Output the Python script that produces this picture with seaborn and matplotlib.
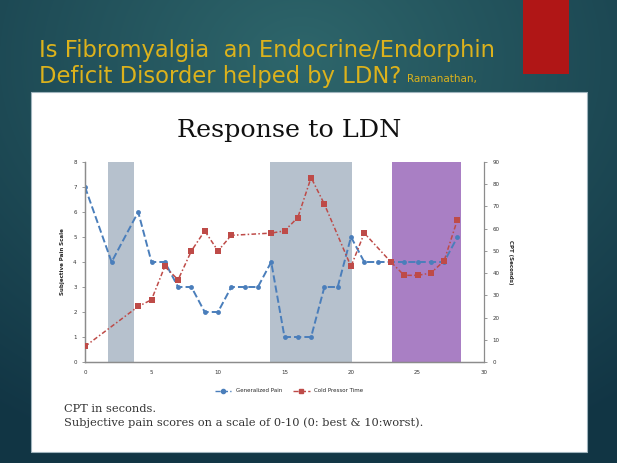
import numpy as np
import pandas as pd
import matplotlib.pyplot as plt
import seaborn as sns
from matplotlib.patches import Rectangle
from matplotlib.lines import Line2D

# values
pain_day = [0, 2, 4, 5, 6, 7, 8, 9, 10, 11, 12, 13, 14, 15, 16, 17, 18, 19, 20,
            21, 22, 23, 24, 25, 26, 27, 28]
pain_score = [7, 4, 6, 4, 4, 3, 3, 2, 2, 3, 3, 3, 4, 1, 1, 1, 3, 3, 5,
              4, 4, 4, 4, 4, 4, 4, 5]
cpt_day = [0, 4, 5, 6, 7, 8, 9, 10, 11, 14, 15, 16, 17, 18, 20, 21, 23, 24, 25, 26, 27, 28]
cpt_sec = [7, 25, 28, 43, 37, 50, 59, 50, 57, 58, 59, 65, 83, 71, 43, 58, 45, 39, 39, 40, 45.5, 64]
# shaded treatment periods (start, end)
gray_spans = [(1.75, 3.7), (13.9, 20.1)]
purple_span = (23.05, 28.25)

pain_df = pd.DataFrame({"day": pain_day, "score": pain_score})
cpt_df = pd.DataFrame({"day": cpt_day, "cpt": cpt_sec})

sns.set_style("white")
plt.rcParams['font.family'] = ['DejaVu Sans']

fig = plt.figure(figsize=(6.17, 4.63), dpi=100)

# slide background (dark teal, lighter in the middle)
bg = fig.add_axes([0, 0, 1, 1])
yy, xx = np.mgrid[0:463, 0:617]
r = np.sqrt(((xx - 300) / 520.0) ** 2 + ((yy - 60) / 420.0) ** 2)
r = np.clip(r, 0, 1)
c0 = np.array([0.18, 0.40, 0.42])
c1 = np.array([0.07, 0.21, 0.27])
img = c0[None, None, :] * (1 - r[..., None]) + c1[None, None, :] * r[..., None]
bg.imshow(img, extent=[0, 1, 0, 1], aspect='auto')
bg.axis('off')

# white panel + red bar
fig.patches.append(Rectangle((0.0502, 0.0238), 0.901, 0.7775, transform=fig.transFigure,
                             facecolor='white', edgecolor='#9fb4bd', linewidth=0.8, zorder=1))
fig.patches.append(Rectangle((0.8476, 0.8402), 0.0746, 0.17, transform=fig.transFigure,
                             facecolor='#b01616', edgecolor='none', zorder=1))

gold = '#dcb21c'
fig.text(0.063, 1 - 51 / 463, 'Is Fibromyalgia  an Endocrine/Endorphin', color=gold,
         fontsize=16.3, family='DejaVu Sans', va='center', ha='left')
fig.text(0.063, 1 - 76 / 463, 'Deficit Disorder helped by LDN?', color=gold,
         fontsize=16.3, family='DejaVu Sans', va='center', ha='left')
fig.text(0.66, 1 - 79 / 463, 'Ramanathan,', color=gold, fontsize=7.5, family='DejaVu Sans',
         va='center', ha='left')

fig.text(289 / 617, 1 - 130 / 463, 'Response to LDN', fontsize=18.3, family='DejaVu Serif',
         ha='center', va='center', color='#111111')

ax = fig.add_axes([85 / 617, 1 - 362 / 463, 399 / 617, 200 / 463])
ax.set_zorder(3)
ax.patch.set_alpha(0)

for a, b in gray_spans:
    ax.axvspan(a, b, ymin=0, ymax=1, color='#b6c1cd', zorder=0, lw=0)
ax.axvspan(purple_span[0], purple_span[1], color='#a97fc4', zorder=0, lw=0)

blue = '#4a7ebb'
red = '#be4b48'
sns.lineplot(data=pain_df, x='day', y='score', ax=ax, color=blue, linestyle='--',
             linewidth=1.4, marker='o', markersize=3.5, markeredgewidth=0, zorder=3)
ax.set_xlim(0, 30)
ax.set_ylim(0, 8)
ax.set_xticks(range(0, 31, 5))
ax.set_yticks(range(0, 9))
ax.set_xlabel('')
ax.set_ylabel('Subjective Pain Scale', fontsize=4, fontweight='bold', labelpad=6)

ax2 = ax.twinx()
sns.lineplot(data=cpt_df, x='day', y='cpt', ax=ax2, color=red, linestyle=(0, (3, 1.5, 1, 1.5)),
             linewidth=1.1, marker='s', markersize=4, markeredgewidth=0, zorder=3)
ax2.set_ylim(0, 90)
ax2.set_yticks(range(0, 91, 10))
ax2.set_ylabel('CPT (Seconds)', fontsize=4, fontweight='bold', rotation=270, labelpad=10)
ax2.set_xlabel('')

for a in (ax, ax2):
    a.tick_params(labelsize=4, length=2, width=0.6, color='#888888', labelcolor='#333333', pad=4)
    for s in a.spines.values():
        s.set_color('#8c8c8c')
        s.set_linewidth(0.9)
    a.spines['top'].set_visible(False)
ax.spines['right'].set_visible(False)

handles = [Line2D([], [], color=blue, linestyle='--', marker='o', markersize=3, linewidth=1),
           Line2D([], [], color=red, linestyle='--', marker='s', markersize=3, linewidth=1)]
fig.legend(handles, ['Generalized Pain', 'Cold Pressor Time'], loc='center',
           bbox_to_anchor=(289 / 617, 1 - 391 / 463), ncol=2, frameon=False, fontsize=4,
           handlelength=3, columnspacing=2)

fig.text(64 / 617, 1 - 409 / 463, 'CPT in seconds.', fontsize=8.2, family='DejaVu Serif',
         color='#333333', va='center')
fig.text(64 / 617, 1 - 423 / 463, 'Subjective pain scores on a scale of 0-10 (0: best & 10:worst).',
         fontsize=8.2, family='DejaVu Serif', color='#333333', va='center')

fig.savefig('out.png', dpi=100)
